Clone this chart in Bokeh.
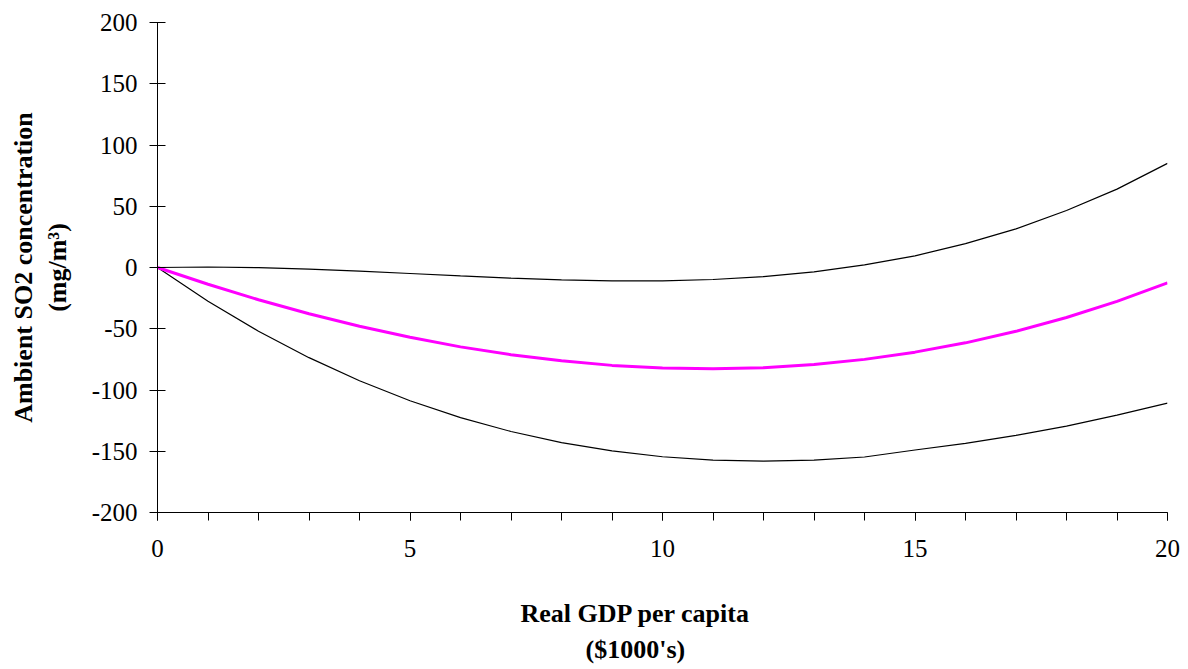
from bokeh.plotting import figure
from bokeh.models import Range1d, FixedTicker, Title
from bokeh.embed import file_html
from bokeh.resources import INLINE

# Real GDP per capita ($1000's)
gdp = [0, 1, 2, 3, 4, 5, 6, 7, 8, 9, 10, 11, 12, 13, 14, 15, 16, 17, 18, 19, 20]
# upper bound (black)
upper = [0, 0.4, -0.1, -1.3, -3.0, -4.9, -6.9, -8.7, -10.1, -10.9, -10.9, -9.8, -7.4,
         -3.5, 2.1, 9.5, 19.5, 31.5, 46.5, 64.0, 85.0]
# central estimate (magenta)
central = [0, -13.7, -26.3, -37.7, -48.0, -57.0, -64.8, -71.2, -76.2, -79.9, -82.0, -82.7,
           -81.8, -79.2, -75.0, -69.1, -61.5, -52.1, -40.8, -27.7, -12.5]
# lower bound (black)
lower = [0, -27.5, -52.0, -73.6, -92.5, -108.8, -122.5, -133.9, -142.9, -149.7, -154.5,
         -157.2, -158.0, -157.2, -154.7, -149.0, -143.5, -137.0, -129.5, -120.5, -110.7]

x_major = [0, 5, 10, 15, 20]
x_minor = list(range(0, 21))
y_major = [-200, -150, -100, -50, 0, 50, 100, 150, 200]
y_tick_labels = {v: str(v) for v in y_major}

x_title = ["Real GDP per capita", "($1000's)"]
y_title = ["Ambient SO2 concentration", "(mg/m\u00b3)"]

FONT = "Liberation Serif"

p = figure(width=1180, height=668, x_range=Range1d(0, 20), y_range=Range1d(-200, 200),
           output_backend="svg", toolbar_location=None,
           min_border_left=157, min_border_top=22, min_border_right=13, min_border_bottom=156)
p.outline_line_color = None
p.xgrid.grid_line_color = None
p.ygrid.grid_line_color = None
p.background_fill_color = "white"
p.border_fill_color = "white"

p.line(gdp, upper, line_color="black", line_width=1.2)
p.line(gdp, lower, line_color="black", line_width=1.2)
p.line(gdp, central, line_color="#FF00FF", line_width=3)

xa = p.xaxis[0]
xa.ticker = FixedTicker(ticks=x_major, minor_ticks=x_minor)
xa.major_tick_in = 0
xa.major_tick_out = 8
xa.minor_tick_in = 0
xa.minor_tick_out = 8
xa.axis_line_color = "black"
xa.major_tick_line_color = "black"
xa.minor_tick_line_color = "black"
xa.major_label_text_font = FONT
xa.major_label_text_font_size = "25px"
xa.major_label_text_color = "black"
xa.major_label_standoff = 19

ya = p.yaxis[0]
ya.ticker = FixedTicker(ticks=y_major, minor_ticks=[])
ya.major_label_overrides = y_tick_labels
ya.major_tick_in = 8
ya.major_tick_out = 8
ya.minor_tick_in = 0
ya.minor_tick_out = 0
ya.axis_line_color = "black"
ya.major_tick_line_color = "black"
ya.major_label_text_font = FONT
ya.major_label_text_font_size = "25px"
ya.major_label_text_color = "black"
ya.major_label_standoff = 12

common = dict(text_font=FONT, text_font_style="bold", text_font_size="26px",
              text_color="black")
spacer = dict(text=" ", text_font_size="1px")

# x-axis title, two lines below the axis
p.add_layout(Title(standoff=30, **spacer), "below")
p.add_layout(Title(text=x_title[0], align="left", offset=363, standoff=9, **common), "below")
p.add_layout(Title(text=x_title[1], align="left", offset=428, standoff=0, **common), "below")
# y-axis title, two rotated lines left of the axis (second line nearest the axis)
p.add_layout(Title(standoff=10, **spacer), "left")
p.add_layout(Title(text=y_title[1], align="center", standoff=7, **common), "left")
p.add_layout(Title(text=y_title[0], align="center", standoff=0, **common), "left")

open("out.html", "w").write(file_html(p, INLINE))
